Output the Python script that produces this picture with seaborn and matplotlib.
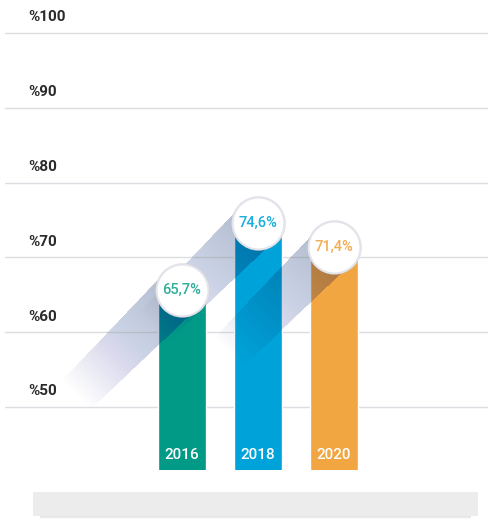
import matplotlib.pyplot as plt
import numpy as np
import seaborn as sns
from matplotlib.patches import Rectangle, Polygon

# data
years = ["2016", "2018", "2020"]
values = [65.7, 74.6, 71.4]
value_labels = ["65,7%", "74,6%", "71,4%"]
bar_colors = ["#009a87", "#00a3d9", "#f2a642"]
label_colors = ["#2fae99", "#1aaee0", "#f4ad55"]
tick_values = [50, 60, 70, 80, 90, 100]
tick_labels = ["%50", "%60", "%70", "%80", "%90", "%100"]

sns.set_style("white")
plt.rcParams["font.family"] = ["Roboto", "DejaVu Sans"]

W, H = 489, 520
fig = plt.figure(figsize=(W / 100, H / 100), dpi=100)
ax = fig.add_axes([0, 50 / H, 1, 470 / H])

sns.barplot(x=years, y=values, hue=years, palette=bar_colors, legend=False,
            width=0.63, saturation=1, ax=ax, zorder=2)
ax.set_xlim(-2.39, 4.04)
ax.set_ylim(41.6, 104.4)
ax.axis("off")

# grid lines + labels
for v, lab in zip(tick_values, tick_labels):
    ax.axhline(v, xmin=5 / W, xmax=1, color="#dcdde2", lw=1, zorder=0)
    ax.text(28 / W, v + 2.1, lab, transform=ax.get_yaxis_transform(), ha="left",
            va="center", fontsize=11, color="#2a2a2a", fontweight="bold")

fig.canvas.draw()
inv = ax.transData.inverted()
r = 24
d = np.array([-1.0, -1.0]) / np.sqrt(2)
n = np.array([1.0, -1.0]) / np.sqrt(2)

for i, (v, lab, c) in enumerate(zip(values, value_labels, bar_colors)):
    C = ax.transData.transform((i, v))
    # long shadow, faded in many thin layers
    for L in range(4, 150, 3):
        w = r * (1 - 0.15 * L / 150)
        pts = np.array([C + r * n, C - r * n, C - w * n + L * d, C + w * n + L * d])
        poly = Polygon(inv.transform(pts), closed=True, facecolor="#4a5a96",
                       edgecolor="none", alpha=0.0065, zorder=3)
        ax.add_patch(poly)
    ax.scatter([i], [v], s=1560, color="#9aa0b0", alpha=0.2, zorder=4, linewidths=0)
    ax.scatter([i], [v], s=1400, facecolor="white", edgecolor="#e2e4ea",
               linewidths=1.5, zorder=5)
    ax.text(i, v, lab, ha="center", va="center", fontsize=10.5, color=label_colors[i],
            fontweight="medium", zorder=6)
    ax.text(i, 0.032, years[i], transform=ax.get_xaxis_transform(), ha="center",
            va="center", fontsize=11, color="white", fontweight="medium", zorder=6)

# bottom base strip
fig.patches.append(Rectangle((33 / W, 4 / H), 445 / W, 24 / H, transform=fig.transFigure,
                             facecolor="#ececec", edgecolor="none", zorder=1))
for k, a in enumerate([0.35, 0.2, 0.1]):
    fig.patches.append(Rectangle((40 / W, (3 - k) / H), 431 / W, 1 / H, transform=fig.transFigure,
                                 facecolor="#b0b0b0", edgecolor="none", alpha=a, zorder=1))

plt.savefig("out.png", dpi=100)
